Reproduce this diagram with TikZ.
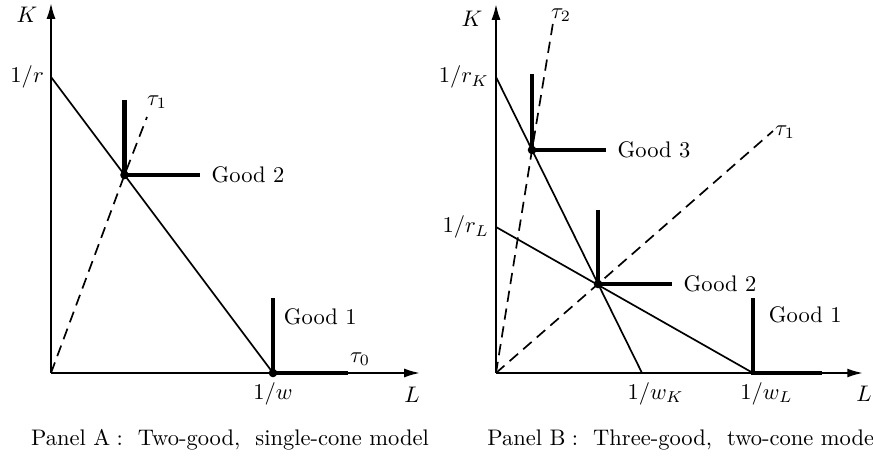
\documentclass[tikz,border=0pt]{standalone}
\usepackage{tikz}
\usetikzlibrary{positioning, calc, arrows.meta}

\begin{document}
\begin{tikzpicture}[
    x=0.444pt, y=0.444pt,
    axis/.style={-{Latex[length=7pt, width=4pt]}, line width=0.9pt},
    budget/.style={line width=0.75pt},
    ray/.style={line width=0.75pt, dash pattern=on 5pt off 3pt},
    iso/.style={line width=2.2pt},
    eqpt/.style={circle, fill, inner sep=0pt, minimum size=3.8pt},
    lbl/.style={inner sep=2pt},
    panelcap/.style={inner sep=0pt},
  ]
  \useasboundingbox (0,0) rectangle (873,462);

  % Panel A: axes
  \coordinate (oA) at (51,89);
  \coordinate (kA) at (51,459);
  \coordinate (lA) at (420,89);
  \draw[axis] (oA) -- (kA);
  \draw[axis] (oA) -- (lA);
  \node[lbl] (kAlab) at (27,447) {$K$};
  \node[lbl] (lAlab) at (412,67) {$L$};

  % Panel A: budget line
  \coordinate (rA) at (51,385);
  \coordinate (wA) at (273,89);
  \draw[budget] (rA) -- (wA);
  \node[lbl, left=1pt of rA] (rAlab) {$1/r$};
  \node[lbl, below=2pt of wA] (wAlab) {$1/w$};

  % Panel A: rays
  \coordinate (g2A) at (124.5,287);
  \coordinate (t1A) at (147,345);
  \coordinate (t0A) at (348,89);
  \draw[ray] (oA) -- (g2A) -- (t1A);
  \draw[ray] (oA) -- (t0A);
  \node[lbl] (t1Alab) at (157,360) {$\tau_1$};
  \node[lbl] (t0Alab) at (360,103) {$\tau_0$};

  % Panel A: isoquants
  \coordinate (g2Atop) at (124.5,362);
  \coordinate (g2Aend) at (200,287);
  \coordinate (g1Atop) at (273,164);
  \draw[iso] (g2Atop) -- (g2A) -- (g2Aend);
  \draw[iso] (g1Atop) -- (wA) -- (t0A);
  \node[eqpt] (g2Adot) at (g2A) {};
  \node[eqpt] (g1Adot) at (wA) {};
  \node[lbl, right=3pt of g2Aend] (g2Alab) {Good 2};
  \node[lbl, anchor=west] (g1Alab) at (279,145) {Good 1};

  % Panel B: axes
  \coordinate (oB) at (496,89);
  \coordinate (kB) at (496,458);
  \coordinate (lB) at (863,89);
  \draw[axis] (oB) -- (kB);
  \draw[axis] (oB) -- (lB);
  \node[lbl] (kBlab) at (472,443) {$K$};
  \node[lbl] (lBlab) at (864,68) {$L$};

  % Panel B: budget lines
  \coordinate (rKB) at (496,385);
  \coordinate (rLB) at (496,235);
  \coordinate (wKB) at (642,89);
  \coordinate (wLB) at (753,89);
  \draw[budget] (rKB) -- (wKB);
  \draw[budget] (rLB) -- (wLB);
  \node[lbl, left=1pt of rKB] (rKBlab) {$1/r_K$};
  \node[lbl, left=1pt of rLB] (rLBlab) {$1/r_L$};
  \node[lbl, below=2pt of wKB, xshift=6pt] (wKBlab) {$1/w_K$};
  \node[lbl, below=2pt of wLB, xshift=6pt] (wLBlab) {$1/w_L$};

  % Panel B: rays
  \coordinate (g3B) at (532,312);
  \coordinate (g2B) at (598,178);
  \coordinate (t2B) at (553,439);
  \coordinate (t1B) at (773,331);
  \draw[ray] (oB) -- (g3B) -- (t2B);
  \draw[ray] (oB) -- (g2B) -- (t1B);
  \node[lbl] (t2Blab) at (561,447) {$\tau_2$};
  \node[lbl] (t1Blab) at (785,330) {$\tau_1$};

  % Panel B: isoquants
  \coordinate (g3Btop) at (532,388);
  \coordinate (g3Bend) at (606,312);
  \coordinate (g2Btop) at (598,252);
  \coordinate (g2Bend) at (672,178);
  \coordinate (g1Btop) at (753,164);
  \coordinate (g1Bend) at (822,89);
  \draw[iso] (g3Btop) -- (g3B) -- (g3Bend);
  \draw[iso] (g2Btop) -- (g2B) -- (g2Bend);
  \draw[iso] (g1Btop) -- (wLB) -- (g1Bend);
  \node[eqpt] (g3Bdot) at (g3B) {};
  \node[eqpt] (g2Bdot) at (g2B) {};
  \node[lbl, right=3pt of g3Bend] (g3Blab) {Good 3};
  \node[lbl, right=3pt of g2Bend] (g2Blab) {Good 2};
  \node[lbl, anchor=west] (g1Blab) at (764,147) {Good 1};

  % captions
  \node[panelcap] (capA) at (230,22) {Panel A\;:\ \ Two-good,\ \ single-cone model};
  \node[panelcap, anchor=west] (capB) at (487,22) {Panel B\;:\ \ Three-good,\ \ two-cone model};
\end{tikzpicture}
\end{document}
